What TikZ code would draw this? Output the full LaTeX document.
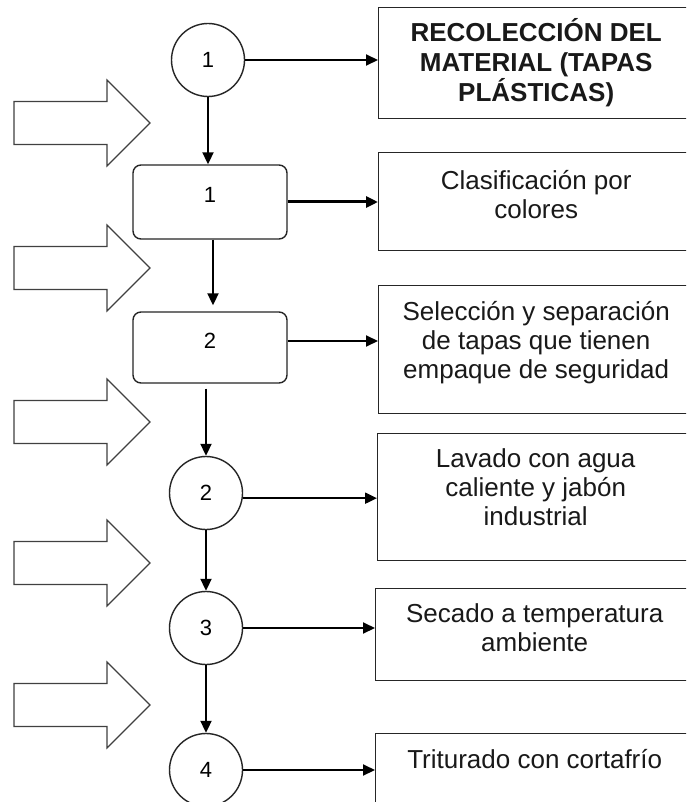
\documentclass[tikz,border=0pt]{standalone}
\usepackage{fontspec}
\setmainfont{Liberation Sans}
\usetikzlibrary{arrows.meta,positioning}

\begin{document}
\begin{tikzpicture}[x=1pt, y=-1pt,
    conn/.style={line width=2pt, -{Triangle[length=12pt,width=11pt]}},
    stage/.style={circle, draw=black!85, line width=1.4pt, minimum size=73pt, inner sep=0pt, font=\fontsize{22}{24}\selectfont},
    stepbox/.style={draw=black!85, line width=1.4pt, rounded corners=8pt, minimum width=154pt, inner sep=0pt, text depth=14pt, font=\fontsize{22}{24}\selectfont},
    outbox/.style={draw=black!85, line width=1.4pt, anchor=north west, inner sep=0pt},
    outtxt/.style={align=center, inner sep=0pt, text=black!90, font=\fontsize{26}{29}\selectfont},
    inarrow/.style={draw=black!75, line width=1.2pt, fill=white}]
  \useasboundingbox (0,0) rectangle (686,802);
  \clip (0,0) rectangle (686,802);
  \fill[white] (0,0) rectangle (686,802);
  % big arrows on the left
  \foreach \y in {123,268,422,563,705}
    \draw[inarrow] (14,\y-21.5) -- (107,\y-21.5) -- (107,\y-43) -- (150,\y)
      -- (107,\y+43) -- (107,\y+21.5) -- (14,\y+21.5) -- cycle;

  % process line
  \node[stage] (c1) at (208,60) {1};
  \node[stepbox, minimum height=74pt] (r1) at (210,202) {1};
  \node[stepbox, minimum height=71pt] (r2) at (210,347.5) {2};
  \node[stage] (c2) at (206,493) {2};
  \node[stage] (c3) at (206,628) {3};
  \node[stage] (c4) at (206,770) {4};

  % boxes on the right
  \node[outbox, minimum width=315pt, minimum height=111pt] (b1) at (378,7) {};
  \node[outbox, minimum width=315pt, minimum height=98pt] (b2) at (378,152) {};
  \node[outbox, minimum width=315pt, minimum height=128pt] (b3) at (378,285) {};
  \node[outbox, minimum width=316pt, minimum height=127pt] (b4) at (377,433) {};
  \node[outbox, minimum width=318pt, minimum height=92pt] (b5) at (375,588) {};
  \node[outbox, minimum width=318pt, minimum height=100pt] (b6) at (375,733) {};

  \node[outtxt, font=\fontsize{26}{30}\selectfont\bfseries, below=11pt of b1.north] (t1)
    {RECOLECCIÓN DEL\\MATERIAL (TAPAS\\PLÁSTICAS)};
  \node[outtxt, below=18pt of b2.north] (t2) {Clasificación por\\colores};
  \node[outtxt, below=16pt of b3.north] (t3)
    {Selección y separación\\de tapas que tienen\\empaque de seguridad};
  \node[outtxt, below=15pt of b4.north] (t4) {Lavado con agua\\caliente y jabón\\industrial};
  \node[outtxt, below=15pt of b5.north] (t5) {Secado a temperatura\\ambiente};
  \node[outtxt, below=16pt of b6.north] (t6) {Triturado con cortafrío};

  % connectors
  \draw[conn] (c1.south) -- (c1.south |- r1.north);
  \draw[conn, shorten >=6pt] ([xshift=3pt]r1.south) -- ([xshift=3pt]r1.south |- r2.north);
  \draw[conn, shorten <=5pt] (r2.south -| c2.north) -- (c2.north);
  \draw[conn] (c2.south) -- (c3.north);
  \draw[conn] (c3.south) -- (c4.north);

  \draw[conn] (c1.east) -- (c1.east -| b1.west);
  \draw[conn, line width=3pt] (r1.east) -- (r1.east -| b2.west);
  \draw[conn] ([yshift=6.5pt]r2.east) -- ([yshift=6.5pt]r2.east -| b3.west);
  \draw[conn] (c2.-8) -- (c2.-8 -| b4.west);
  \draw[conn] (c3.east) -- (c3.east -| b5.west);
  \draw[conn] (c4.east) -- (c4.east -| b6.west);
\end{tikzpicture}
\end{document}
